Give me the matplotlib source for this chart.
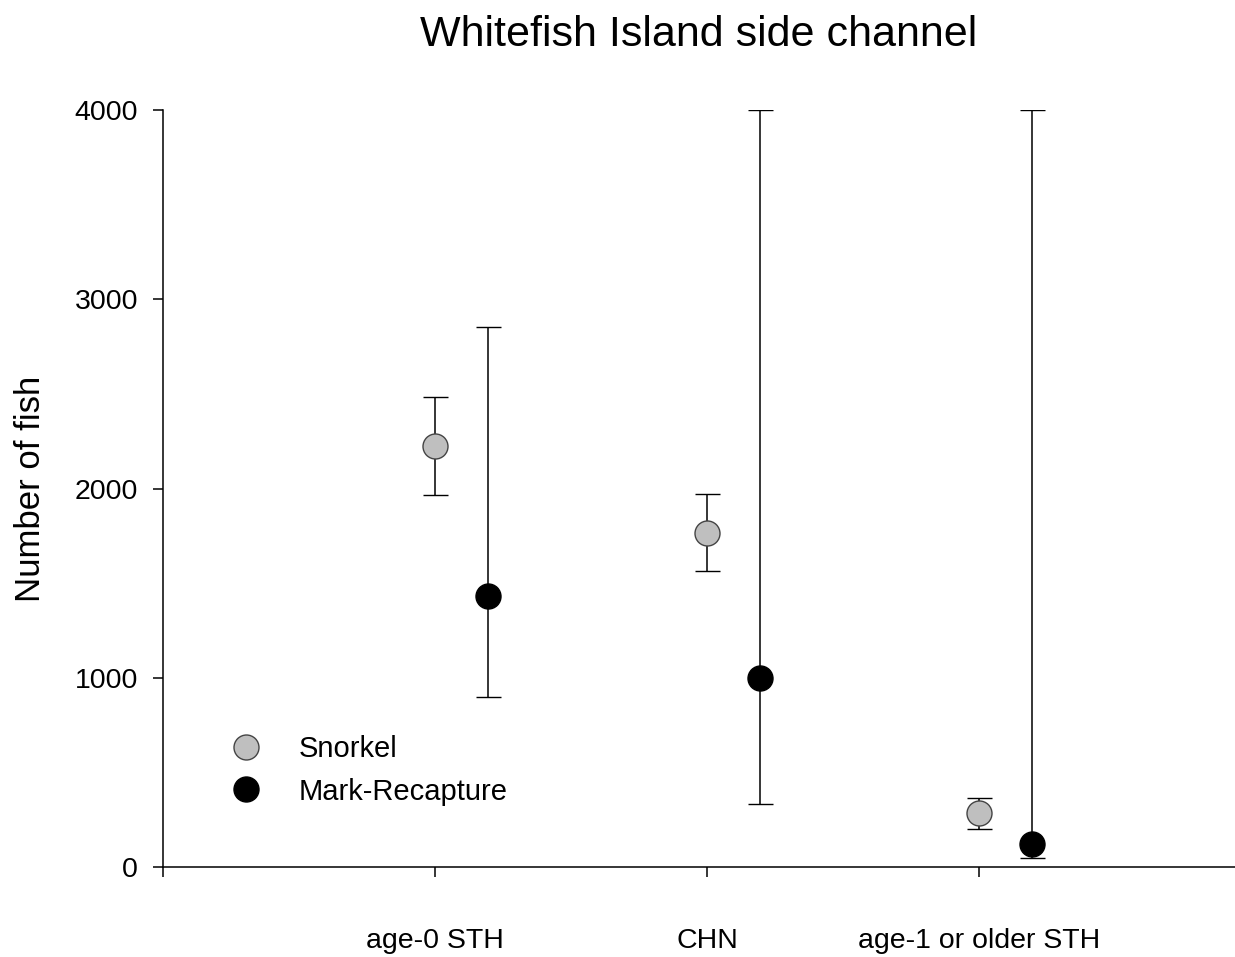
import numpy as np
import matplotlib
matplotlib.use('Agg')
import matplotlib.pyplot as plt

plt.rcParams['font.family'] = ['Liberation Sans', 'DejaVu Sans']

# --- datos ---
categorias = ['age-0 STH', 'CHN', 'age-1 or older STH']
snorkel = [2225, 1765, 285]
snorkel_bajo = [1966, 1564, 201]
snorkel_alto = [2483, 1971, 366]
marca = [1432, 999, 122]
marca_bajo = [898, 333, 49]
marca_alto = [2853, 4000, 4000]

x = np.arange(1, len(categorias) + 1)
desplaz = 0.195

fig = plt.figure(figsize=(12.35, 9.57), dpi=100)
ax = fig.add_axes([0.132, 0.094, 0.868, 0.791])

err_s = [np.array(snorkel) - np.array(snorkel_bajo), np.array(snorkel_alto) - np.array(snorkel)]
err_m = [np.array(marca) - np.array(marca_bajo), np.array(marca_alto) - np.array(marca)]

ax.errorbar(x, snorkel, yerr=err_s, fmt='o', ms=18, mfc='#bfbfbf', mec='#444444', mew=1.0,
            ecolor='black', elinewidth=1.1, capsize=9, capthick=1.1, label='Snorkel', zorder=3)
ax.errorbar(x + desplaz, marca, yerr=err_m, fmt='o', ms=18, mfc='black', mec='black', mew=1.0,
            ecolor='black', elinewidth=1.1, capsize=9, capthick=1.1, label='Mark-Recapture', zorder=3)

ax.set_xlim(0, 3.94)
ax.set_ylim(0, 4000)
ax.set_xticks([0, 1, 2, 3])
ax.set_xticklabels([''] + categorias)
ax.set_yticks([0, 1000, 2000, 3000, 4000])

for s in ['top', 'right']:
    ax.spines[s].set_visible(False)
for s in ['left', 'bottom']:
    ax.spines[s].set_linewidth(1.1)

ax.tick_params(axis='both', direction='out', length=7, width=1.1, labelsize=20.5)
ax.tick_params(axis='x', pad=37)
ax.tick_params(axis='y', pad=11)

ax.set_ylabel('Number of fish', fontsize=25, labelpad=20)
ax.set_title('Whitefish Island side channel', fontsize=31, pad=46)

handles, labels = ax.get_legend_handles_labels()
handles = [h[0] for h in handles]
ax.legend(handles, labels, loc='upper left', bbox_to_anchor=(0.026, 0.209), frameon=False,
          fontsize=21, handletextpad=0.8, labelspacing=0.5, numpoints=1)

plt.savefig('out.png', dpi=100)
